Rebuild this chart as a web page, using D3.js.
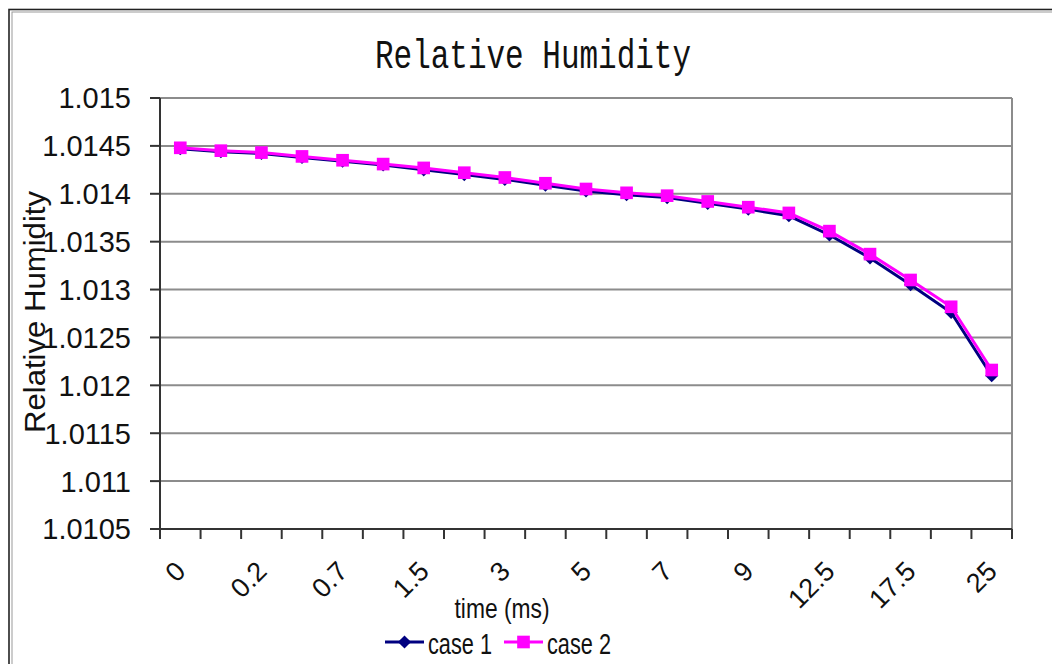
<!DOCTYPE html>
<html>
<head>
<meta charset="utf-8">
<script src="https://cdn.jsdelivr.net/npm/d3@7"></script>
<style>
  body, html { margin: 0; padding: 0; background: #fff; }
  svg { display: block; }
</style>
</head>
<body>
<svg id="chart"></svg>
<script>
"use strict";

var times = ["0", "0.1", "0.2", "0.5", "0.7", "1", "1.5", "2", "3", "4", "5",
  "6", "7", "8", "9", "10", "12.5", "15", "17.5", "20", "25"];

var case1 = [1.01447, 1.01444, 1.01442, 1.01438, 1.01434, 1.01430, 1.01425,
  1.01420, 1.01415, 1.01409, 1.01403, 1.01399, 1.01396, 1.01390, 1.01384,
  1.01377, 1.01357, 1.01333, 1.01305, 1.01276, 1.01210];

var case2 = [1.01448, 1.01445, 1.01443, 1.01439, 1.01435, 1.01431, 1.01427,
  1.01422, 1.01417, 1.01411, 1.01405, 1.01401, 1.01398, 1.01392, 1.01386,
  1.01380, 1.01361, 1.01337, 1.01310, 1.01282, 1.01216];

var yTicks = [1.0105, 1.011, 1.0115, 1.012, 1.0125, 1.013, 1.0135, 1.014, 1.0145, 1.015];

var Chart = {
  width: 1052,
  height: 664,
  plot: { left: 160, right: 1012, top: 98, bottom: 529 },

  init: function () {
    Chart.svg = d3.select('#chart')
      .attr('width', Chart.width)
      .attr('height', Chart.height);

    Chart.x = d3.scaleBand()
      .domain(times)
      .range([Chart.plot.left, Chart.plot.right]);

    Chart.y = d3.scaleLinear()
      .domain([1.0105, 1.015])
      .range([Chart.plot.bottom, Chart.plot.top]);

    Chart.drawFrame();
    Chart.drawGrid();
    Chart.drawAxes();
    Chart.drawSeries(case1, '#000080', 'diamond');
    Chart.drawSeries(case2, '#ff00ff', 'square');
    Chart.drawTexts();
    Chart.drawLegend();
  },

  drawFrame: function () {
    // double border of the chart area, runs off the right / bottom edge
    Chart.svg.append('rect')
      .attr('x', 9)
      .attr('y', 9.5)
      .attr('width', 1200)
      .attr('height', 800)
      .attr('fill', 'none')
      .attr('stroke', '#222')
      .attr('stroke-width', 1.6);
    Chart.svg.append('rect')
      .attr('x', 12)
      .attr('y', 12)
      .attr('width', 1200)
      .attr('height', 800)
      .attr('fill', 'none')
      .attr('stroke', '#999')
      .attr('stroke-width', 1);
  },

  drawGrid: function () {
    var p = Chart.plot;
    Chart.svg.append('g')
      .selectAll('line')
      .data(yTicks.slice(1))
      .enter().append('line')
      .attr('x1', p.left)
      .attr('x2', p.right)
      .attr('y1', function (d) { return Chart.y(d); })
      .attr('y2', function (d) { return Chart.y(d); })
      .attr('stroke', '#8c8c8c')
      .attr('stroke-width', 2);

    Chart.svg.append('line')
      .attr('x1', p.right)
      .attr('x2', p.right)
      .attr('y1', p.top)
      .attr('y2', p.bottom)
      .attr('stroke', '#8c8c8c')
      .attr('stroke-width', 2);
  },

  drawAxes: function () {
    var p = Chart.plot;
    var axisColor = '#333';

    // y axis
    var yAxis = Chart.svg.append('g');
    yAxis.append('line')
      .attr('x1', p.left).attr('x2', p.left)
      .attr('y1', p.top).attr('y2', p.bottom)
      .attr('stroke', axisColor)
      .attr('stroke-width', 2);
    yAxis.selectAll('.ytick')
      .data(yTicks)
      .enter().append('line')
      .attr('class', 'ytick')
      .attr('x1', p.left - 10).attr('x2', p.left)
      .attr('y1', function (d) { return Chart.y(d); })
      .attr('y2', function (d) { return Chart.y(d); })
      .attr('stroke', axisColor)
      .attr('stroke-width', 2);
    yAxis.selectAll('text')
      .data(yTicks)
      .enter().append('text')
      .attr('x', 131)
      .attr('y', function (d) { return Chart.y(d); })
      .attr('dy', '0.36em')
      .attr('text-anchor', 'end')
      .attr('font-family', 'Liberation Sans, Arial, sans-serif')
      .attr('font-size', '29px')
      .attr('fill', '#111')
      .text(function (d) { return String(d); });

    // x axis, ticks between categories like Excel does
    var xAxis = Chart.svg.append('g');
    xAxis.append('line')
      .attr('x1', p.left).attr('x2', p.right)
      .attr('y1', p.bottom).attr('y2', p.bottom)
      .attr('stroke', axisColor)
      .attr('stroke-width', 2);
    var edges = times.map(function (t) { return Chart.x(t); });
    edges.push(Chart.x(times[times.length - 1]) + Chart.x.bandwidth());
    xAxis.selectAll('.xtick')
      .data(edges)
      .enter().append('line')
      .attr('class', 'xtick')
      .attr('x1', function (d) { return d; })
      .attr('x2', function (d) { return d; })
      .attr('y1', p.bottom)
      .attr('y2', p.bottom + 10)
      .attr('stroke', axisColor)
      .attr('stroke-width', 2);

    var shown = times.filter(function (t, i) { return i % 2 === 0; });
    xAxis.selectAll('text')
      .data(shown)
      .enter().append('text')
      .attr('transform', function (d) {
        var cx = Chart.x(d) + Chart.x.bandwidth() / 2;
        return 'translate(' + cx + ',' + (p.bottom + 37) + ') rotate(-45)';
      })
      .attr('text-anchor', 'end')
      .attr('dy', '0.36em')
      .attr('font-family', 'Liberation Sans, Arial, sans-serif')
      .attr('font-size', '27px')
      .attr('fill', '#111')
      .text(function (d) { return d; });
  },

  drawSeries: function (values, color, shape) {
    var half = Chart.x.bandwidth() / 2;
    var line = d3.line()
      .x(function (d, i) { return Chart.x(times[i]) + half; })
      .y(function (d) { return Chart.y(d); });

    var g = Chart.svg.append('g');
    g.append('path')
      .datum(values)
      .attr('d', line)
      .attr('fill', 'none')
      .attr('stroke', color)
      .attr('stroke-width', 3);

    var sym = d3.symbol()
      .type(shape === 'square' ? d3.symbolSquare : d3.symbolDiamond2)
      .size(shape === 'square' ? 160 : 110);

    g.selectAll('path.mark')
      .data(values)
      .enter().append('path')
      .attr('class', 'mark')
      .attr('d', sym)
      .attr('transform', function (d, i) {
        return 'translate(' + (Chart.x(times[i]) + half) + ',' + Chart.y(d) + ')';
      })
      .attr('fill', color);
  },

  drawTexts: function () {
    // title font in the original is tall and thin
    Chart.svg.append('text')
      .attr('transform', 'translate(533,68) scale(1,1.3)')
      .attr('text-anchor', 'middle')
      .attr('font-family', 'Liberation Mono, Courier New, monospace')
      .attr('font-size', '31px')
      .attr('fill', '#111')
      .text('Relative Humidity');

    Chart.svg.append('text')
      .attr('transform', 'translate(45,312) rotate(-90)')
      .attr('text-anchor', 'middle')
      .attr('font-family', 'Liberation Sans, Arial, sans-serif')
      .attr('font-size', '30px')
      .attr('textLength', 242)
      .attr('lengthAdjust', 'spacingAndGlyphs')
      .attr('fill', '#111')
      .text('Relative Humidity');

    // the original fonts are narrow, squeeze them to the same width
    Chart.svg.append('text')
      .attr('x', 502)
      .attr('y', 618)
      .attr('text-anchor', 'middle')
      .attr('font-family', 'Liberation Sans, Arial, sans-serif')
      .attr('font-size', '28px')
      .attr('textLength', 95)
      .attr('lengthAdjust', 'spacingAndGlyphs')
      .attr('fill', '#111')
      .text('time (ms)');
  },

  drawLegend: function () {
    var items = [
      { name: 'case 1', color: '#000080', type: d3.symbolDiamond2, size: 110, x: 385 },
      { name: 'case 2', color: '#ff00ff', type: d3.symbolSquare, size: 160, x: 504 }
    ];
    var g = Chart.svg.append('g');
    items.forEach(function (it) {
      g.append('line')
        .attr('x1', it.x).attr('x2', it.x + 39)
        .attr('y1', 642).attr('y2', 642)
        .attr('stroke', it.color)
        .attr('stroke-width', 3);
      g.append('path')
        .attr('d', d3.symbol().type(it.type).size(it.size))
        .attr('transform', 'translate(' + (it.x + 19.5) + ',642)')
        .attr('fill', it.color);
      g.append('text')
        .attr('x', it.x + 43)
        .attr('y', 654)
        .attr('font-family', 'Liberation Sans, Arial, sans-serif')
        .attr('font-size', '30px')
        .attr('textLength', 64)
        .attr('lengthAdjust', 'spacingAndGlyphs')
        .attr('fill', '#111')
        .text(it.name);
    });
  }
};

Chart.init();
</script>
</body>
</html>
